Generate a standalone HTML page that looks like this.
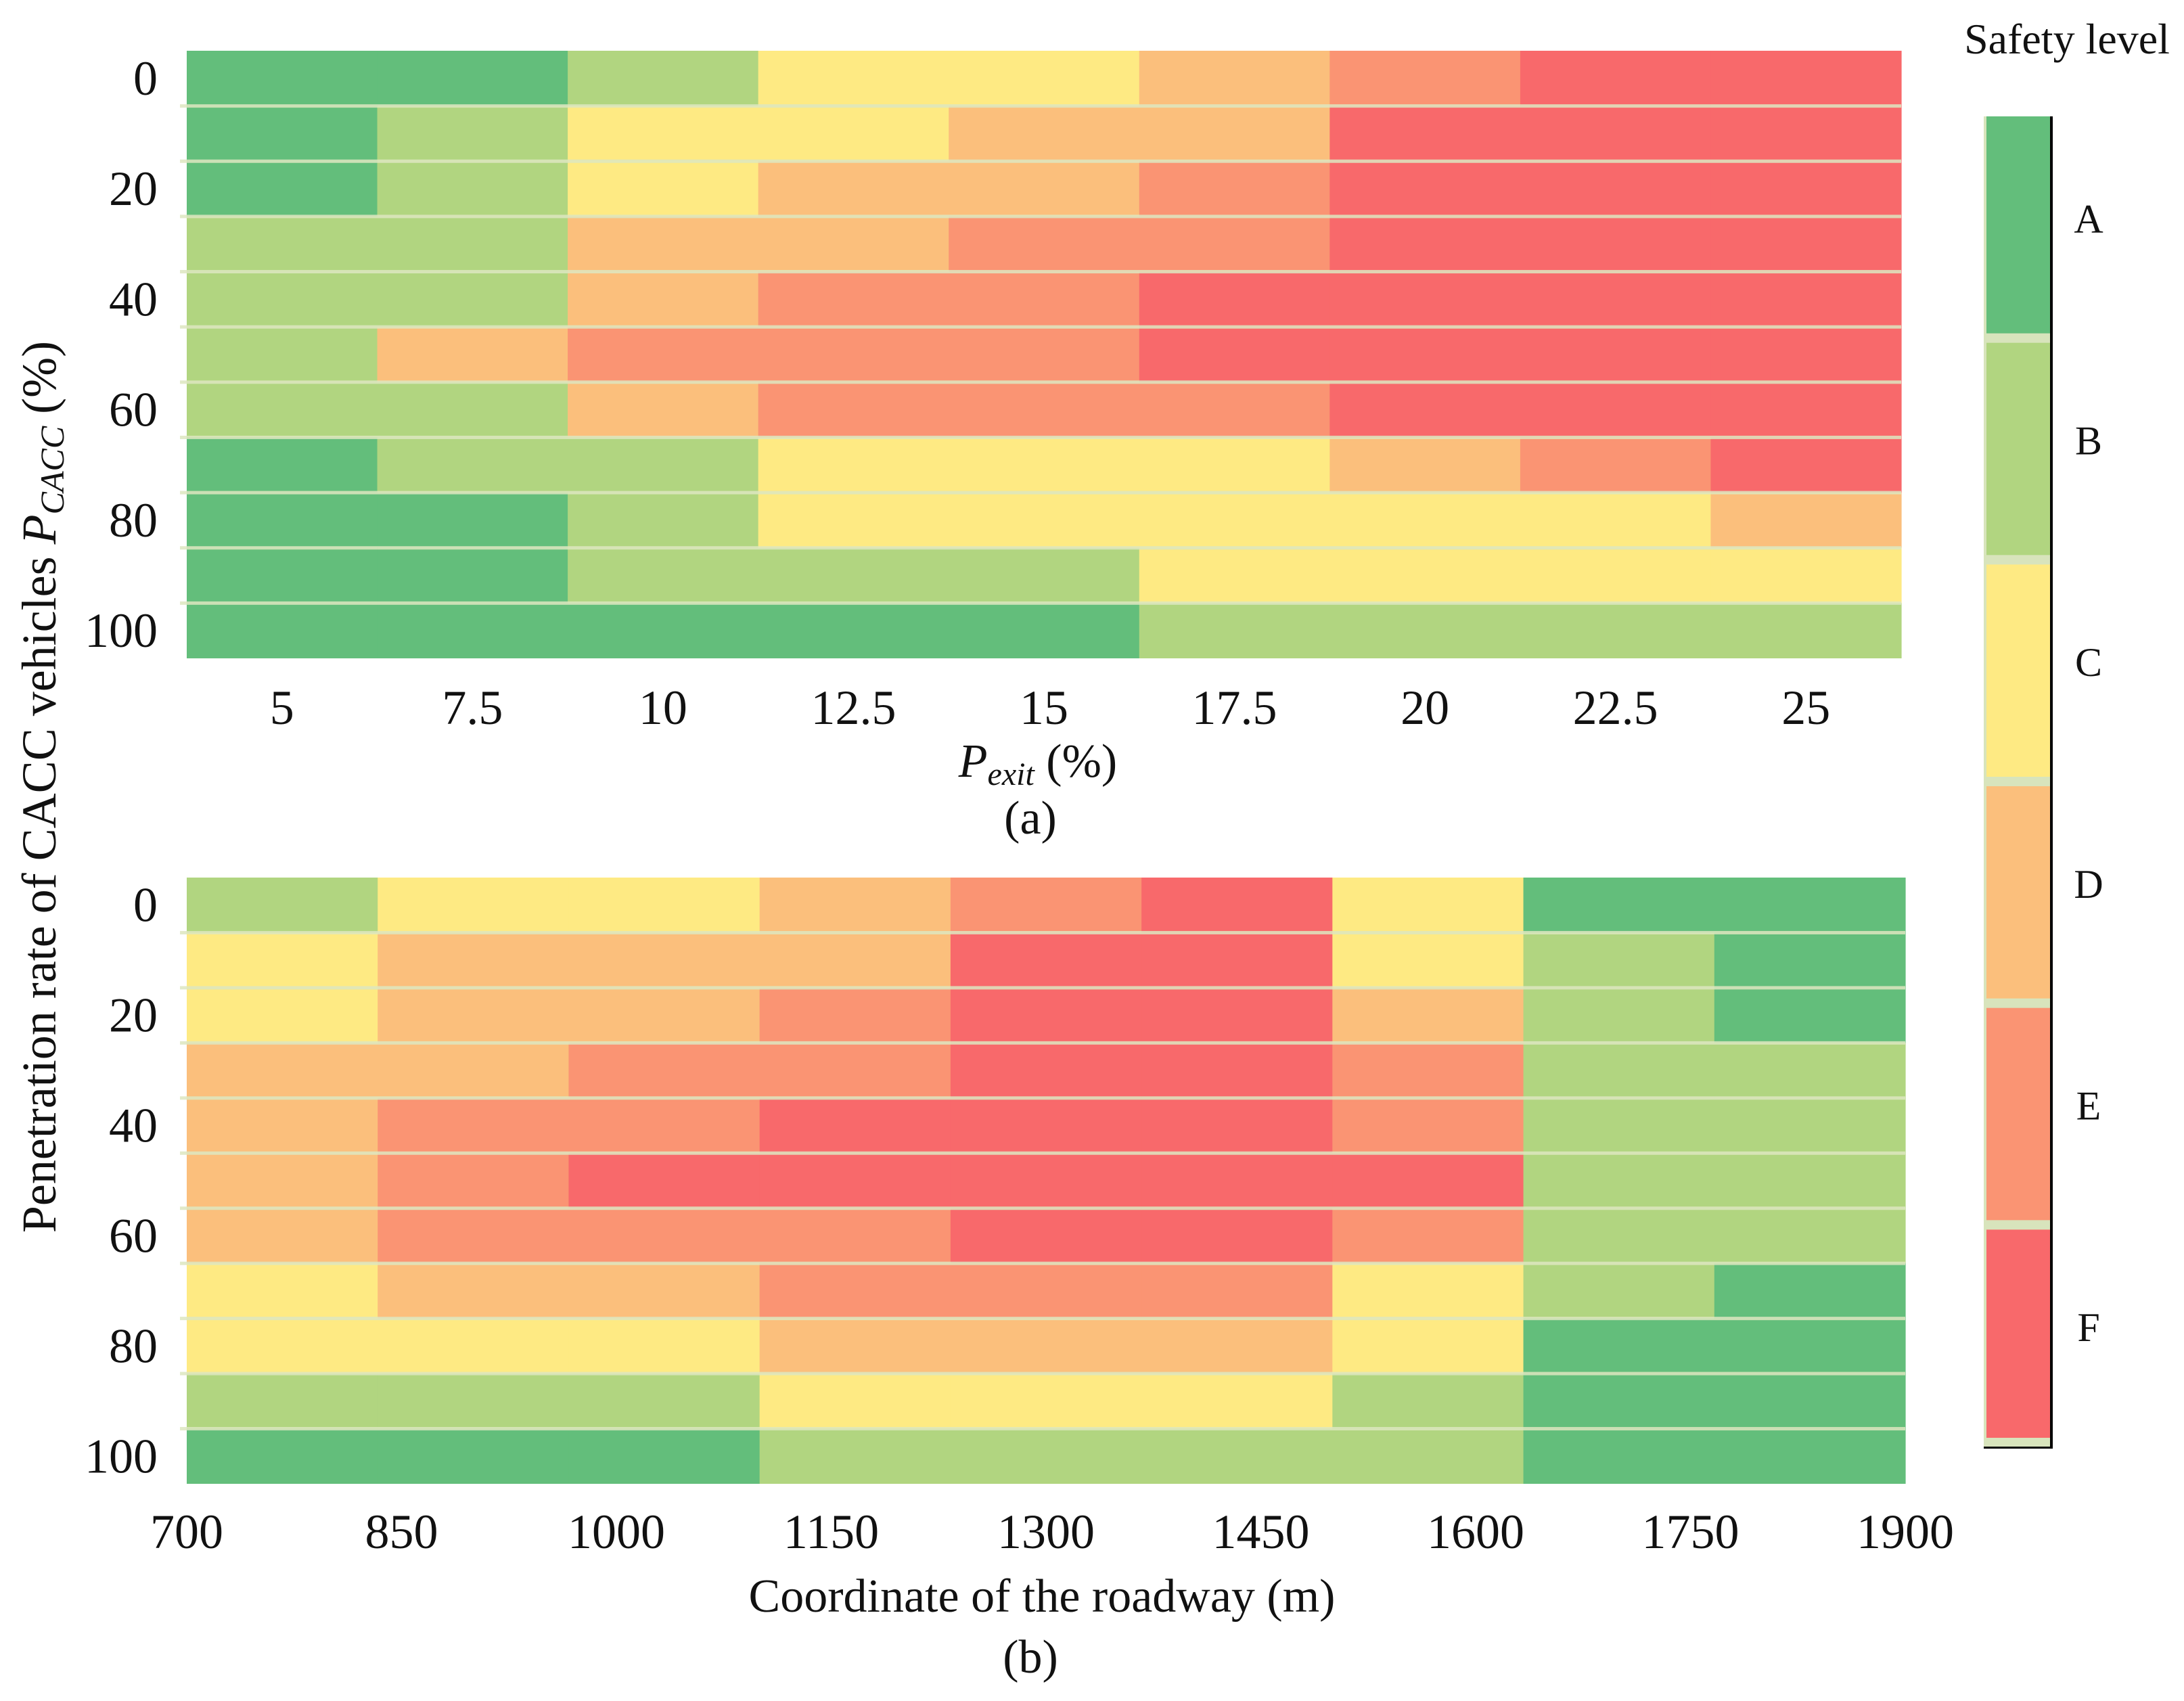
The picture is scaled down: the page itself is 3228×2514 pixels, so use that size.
<!DOCTYPE html>
<html><head><meta charset="utf-8"><style>
html,body{margin:0;padding:0;background:#fff;}
svg{display:block;font-family:"Liberation Serif",serif;}
</style></head><body>
<svg id="chart" width="3228" height="2514" viewBox="0 0 3228 2514" xmlns="http://www.w3.org/2000/svg">
<rect width="3228" height="2514" fill="#fff"/>
<g id="pa"></g>
<g id="pb"></g>
<g id="leg"></g>
<text x="82" y="1163" transform="rotate(-90 82 1163)" text-anchor="middle" font-size="72" fill="#111">Penetration rate of CACC vehicles <tspan font-style="italic">P</tspan><tspan font-style="italic" font-size="50" dy="12">CACC</tspan><tspan dy="-12"> (%)</tspan></text>
<text x="1534" y="1148" text-anchor="middle" font-size="70" fill="#111"><tspan font-style="italic">P</tspan><tspan font-style="italic" font-size="48" dy="12">exit</tspan><tspan dy="-12"> (%)</tspan></text>
<text x="1523" y="1232" text-anchor="middle" font-size="70" fill="#111">(a)</text>
<text x="1540" y="2382" text-anchor="middle" font-size="70" fill="#111">Coordinate of the roadway (m)</text>
<text x="1523" y="2472" text-anchor="middle" font-size="70" fill="#111">(b)</text>
<text x="3055" y="79" text-anchor="middle" font-size="64" fill="#111">Safety level</text>
</svg>
<script>
const levels = ['A','B','C','D','E','F'];
const levelColors = ['#63be7b','#b1d580','#feea83','#fbbf7c','#fa9473','#f8696b'];
const rowLabels = ['0','20','40','60','80','100'];
const xTicksA = ['5','7.5','10','12.5','15','17.5','20','22.5','25'];
const xTicksB = ['700','850','1000','1150','1300','1450','1600','1750','1900'];
const gridA = [
 'AABCCDEFF','ABCCDDFFF','ABCDDEFFF','BBDDEEFFF','BBDEEFFFF','BDEEEFFFF',
 'BBDEEEFFF','ABBCCCDEF','AABCCCCCD','AABBBCCCC','AAAAABBBB'];
const gridB = [
 'BCCDEFCAA','CDDDFFCBA','CDDEFFDBA','DDEEFFEBB','DEEFFFEBB','DEFFFFFBB',
 'DEEEFFEBB','CDDEEECBA','CCCDDDCAA','BBBCCCBAA','AAABBBBAA'];
const NS='http://www.w3.org/2000/svg';
function mk(tag, attrs, parent){const e=document.createElementNS(NS,tag);for(const k in attrs)e.setAttribute(k,attrs[k]);parent.appendChild(e);return e;}
function drawHeat(g, grid, top, bottom, left, right, ticks, tickMode, tickY, prefix){
  const nr=grid.length, nc=grid[0].length;
  const rh=(bottom-top)/nr, cw=(right-left)/nc;
  const xs=c=>left+c*cw, ys=r=>top+r*rh;
  for(let r=0;r<nr;r++){
    for(let c=0;c<nc;c++){
      const li=levels.indexOf(grid[r][c]);
      const rect=mk('rect',{x:xs(c),y:ys(r),width:cw+0.6,height:rh,fill:levelColors[li]},g);
      
      
    }
    if(r>0){
      const ln=mk('rect',{x:left-10,y:ys(r)-2.5,width:right-left+10,height:5,fill:'#dde6bf',opacity:0.85},g);
      
      
    }
  }
  for(let i=0;i<rowLabels.length;i++){
    const t=mk('text',{x:233,y:ys(i*2)+rh/2+24,'text-anchor':'end','font-size':72,fill:'#111'},g);
    t.textContent=rowLabels[i];
    
    
  }
  for(let i=0;i<ticks.length;i++){
    const x= tickMode==='center' ? xs(i)+cw/2 : left+i*(right-left)/(ticks.length-1);
    const t=mk('text',{x:x,y:tickY,'text-anchor':'middle','font-size':72,fill:'#111'},g);
    t.textContent=ticks[i];
    
    
  }
}
drawHeat(document.getElementById('pa'), gridA, 75, 973, 276, 2810, xTicksA, 'center', 1070, 'heatmap-a');
drawHeat(document.getElementById('pb'), gridB, 1297, 2193, 276, 2816, xTicksB, 'edge', 2288, 'heatmap-b');
const lg=document.getElementById('leg');
const cbTop=172, cbBot=2138, cbL=2936, cbR=3030;
const segH=(cbBot-cbTop)/levels.length;
mk('rect',{x:cbL-4,y:cbTop,width:cbR-cbL+4,height:cbBot-cbTop,fill:'#d8e4bc'},lg);
for(let i=0;i<levels.length;i++){
  const y0=cbTop+i*segH;
  const s=mk('rect',{x:cbL,y:y0+(i===0?0:7),width:cbR-cbL,height:segH-(i===0?7:14)-(i===levels.length-1?6:0),fill:levelColors[i]},lg);
  
  
  const t=mk('text',{x:3087,y:y0+segH/2+8,'text-anchor':'middle','font-size':60,fill:'#111'},lg);
  t.textContent=levels[i];
  
  
}
mk('rect',{x:cbR,y:cbTop,width:4,height:cbBot-cbTop+3,fill:'#000'},lg);
mk('rect',{x:cbL-4,y:cbBot,width:cbR-cbL+8,height:3,fill:'#000'},lg);
</script>
</body></html>
